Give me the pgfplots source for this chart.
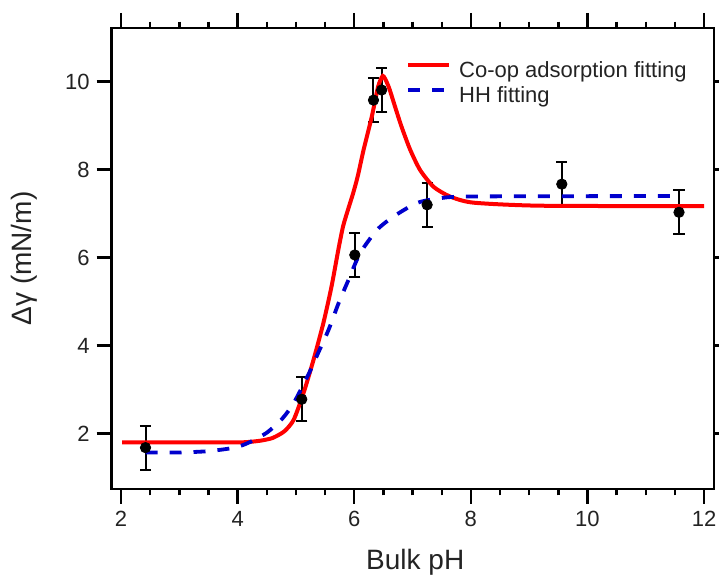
\documentclass[border=0pt]{standalone}
\usepackage{fontspec}
\setmainfont{Liberation Sans}
\usepackage{pgfplots}
\pgfplotsset{compat=1.18}
\definecolor{hhblue}{RGB}{0,0,205}
\definecolor{txt}{RGB}{35,35,35}

\begin{document}
\begin{tikzpicture}[x=1pt,y=1pt]
\begin{axis}[
  at={(0,0)}, anchor=south west,
  scale only axis, width=301.15pt, height=230.5pt,
  xmin=1.84, xmax=12.17, ymin=0.74, ymax=11.22,
  xtick={2,4,6,8,10,12}, ytick={2,4,6,8,10},
  minor x tick num=3,
  tick align=outside, major tick length=7.5pt, minor tick length=3.2pt,
  tick pos=both,
  xticklabel pos=bottom, yticklabel pos=left,
  axis line style={line width=1.4pt},
  every tick/.style={black, line width=1.2pt},
  /pgf/number format/assume math mode=true,
  tick label style={font=\fontsize{11}{13}\selectfont, text=txt},
  xlabel={Bulk pH},
  ylabel={Δγ (mN/m)},
  every axis x label/.style={at={(axis description cs:0.504,-0.158)}, anchor=center, font=\fontsize{14}{16}\selectfont, text=txt},
  every axis y label/.style={at={(axis description cs:-0.145,0.5)}, rotate=90, anchor=center, font=\fontsize{14}{16}\selectfont, text=txt},
  legend style={at={(axis description cs:0.489,0.931)}, anchor=north west, draw=none, fill=none,
    inner sep=0pt, outer sep=0pt, column sep=3pt, row sep=0pt,
    font=\fontsize{11}{13}\selectfont, text=txt,
    nodes={inner sep=1pt, text height=8pt, text depth=2.5pt}},
  legend cell align=left,
  legend image code/.code={\draw[#1] (0pt,3.5pt) -- (20.5pt,3.5pt);},
]
% experimental data
\addplot[only marks, mark=*, mark size=2.6pt, black, forget plot,
  error bars/.cd, y dir=both, y explicit,
  error bar style={line width=1pt, black},
  error mark options={rotate=90, mark size=2.8pt, line width=1pt, black}]
  table[x=x, y=y, y error=e] {
x     y     e
2.42  1.68  0.5
5.10  2.78  0.5
6.01  6.06  0.5
6.33  9.58  0.5
6.47  9.81  0.5
7.25  7.20  0.5
9.56  7.67  0.5
11.57 7.03  0.5
};
% Co-op adsorption fitting
\addplot[red, line width=2pt, smooth, tension=0.4] table {
2.02 1.80
3.00 1.80
4.00 1.80
4.20 1.81
4.40 1.84
4.60 1.90
4.80 2.05
4.96 2.31
5.13 2.92
5.30 3.67
5.47 4.51
5.61 5.34
5.73 6.20
5.81 6.72
5.90 7.12
5.98 7.46
6.06 7.85
6.16 8.45
6.30 9.20
6.41 9.89
6.49 10.13
6.56 9.98
6.61 9.81
6.70 9.43
6.81 8.98
6.96 8.45
7.13 7.99
7.36 7.61
7.64 7.39
8.04 7.25
9.19 7.18
12.00 7.17
};
\addlegendentry{Co-op adsorption fitting}
% HH fitting
\addplot[hhblue, line width=1.9pt, dash pattern=on 6pt off 6pt, smooth, tension=0.4] table {
2.42 1.57
3.00 1.57
3.50 1.60
3.95 1.68
4.20 1.80
4.50 2.02
4.76 2.33
4.96 2.69
5.21 3.33
5.38 3.83
5.56 4.36
5.73 4.96
5.90 5.49
6.10 6.10
6.39 6.63
6.67 6.93
7.07 7.24
7.47 7.35
8.04 7.39
11.59 7.40
};
\addlegendentry{HH fitting}
\end{axis}
\pgfresetboundingbox
\path[use as bounding box] (-55.85,-43.5) rectangle (303.65,244.5);
\end{tikzpicture}
\end{document}
